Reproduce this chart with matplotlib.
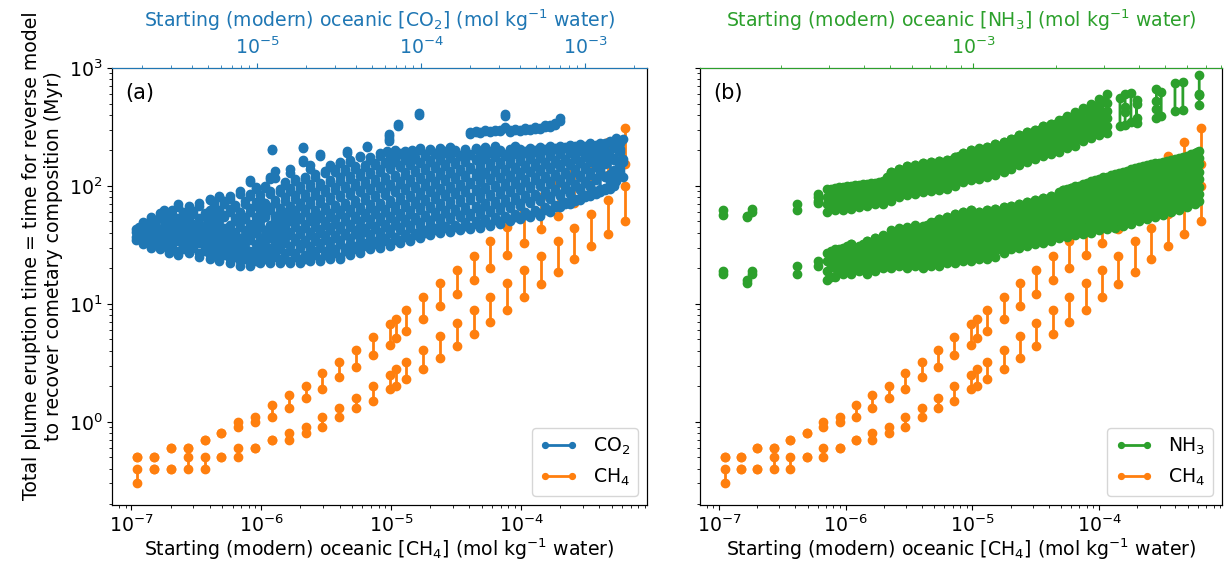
import numpy as np
import matplotlib.pyplot as plt

plt.rcParams['font.size'] = 13.6

# Starting CH4 concentration (mol/kg) for each model run
ch4_conc = [1.11e-7, 1.49e-7, 2.01e-7, 2.71e-7, 3.66e-7, 4.93e-7, 6.64e-7, 8.94e-7,
            1.205e-6, 1.62e-6, 2.19e-6, 2.95e-6, 3.97e-6, 5.35e-6, 7.21e-6, 9.72e-6,
            1.09e-5, 1.31e-5, 1.76e-5, 2.38e-5, 3.20e-5, 4.32e-5, 5.81e-5, 7.83e-5,
            1.055e-4, 1.42e-4, 1.92e-4, 2.58e-4, 3.48e-4, 4.69e-4, 6.32e-4]
# eruption times (Myr), slow branch
ch4_slow_lo = [0.5, 0.5, 0.6, 0.6, 0.7, 0.8, 0.9, 1.0, 1.1, 1.3, 1.6, 1.9, 2.4, 2.9, 3.7, 4.5,
               5.1, 5.9, 7.4, 9.5, 12.2, 15.8, 20.2, 26, 33, 43, 56, 72, 95, 125, 152]
ch4_slow_hi = [0.5, 0.5, 0.6, 0.6, 0.7, 0.8, 1.0, 1.1, 1.4, 1.7, 2.0, 2.6, 3.2, 4.1, 5.2, 6.7,
               7.5, 8.8, 11.4, 15.0, 19.5, 25.7, 33.8, 44.5, 60, 80, 105, 135, 179, 237, 307]
# eruption times (Myr), fast branch
ch4_fast_lo = [0.3, 0.4, 0.4, 0.4, 0.4, 0.5, 0.5, 0.6, 0.7, 0.7, 0.8, 0.9, 1.1, 1.3, 1.5, 1.9,
               2.0, 2.3, 2.8, 3.5, 4.4, 5.6, 7.0, 8.9, 11.4, 14.6, 18.5, 24, 31, 39, 50]
ch4_fast_hi = [0.4, 0.4, 0.4, 0.5, 0.5, 0.5, 0.6, 0.6, 0.7, 0.8, 0.9, 1.1, 1.3, 1.6, 2.0, 2.5,
               2.8, 3.2, 4.1, 5.3, 6.9, 8.8, 11.4, 15.1, 19.5, 25.7, 34, 44, 58, 76, 100]

# CO2 runs: starting conc -> list of (time lo, time hi) pairs in Myr
co2_runs = [
    (1.82e-6, [(35, 37), (41, 43)]),
    (1.90e-6, [(38, 40), (44, 45)]),
    (2.02e-6, [(32, 34), (36, 39), (46, 49)]),
    (2.12e-6, [(34, 35), (40, 43)]),
    (2.25e-6, [(30, 32), (37, 39), (44, 47), (52, 55)]),
    (2.40e-6, [(33, 36), (42, 44), (48, 50)]),
    (2.55e-6, [(29, 31), (35, 37), (40, 42), (55, 59)]),
    (2.70e-6, [(31, 33), (38, 41), (46, 50), (61, 63)]),
    (2.90e-6, [(27, 29), (33, 36), (43, 46), (52, 55)]),
    (3.05e-6, [(30, 32), (37, 40), (48, 51), (58, 62)]),
    (3.30e-6, [(26, 28), (34, 36), (41, 44), (50, 53), (66, 70)]),
    (3.55e-6, [(29, 31), (36, 39), (45, 49), (56, 60)]),
    (3.85e-6, [(27, 30), (32, 34), (40, 43), (51, 55), (62, 68)]),
    (4.10e-6, [(30, 32), (37, 41), (46, 48), (58, 61)]),
    (4.45e-6, [(25, 27), (33, 35), (39, 42), (48, 53), (67, 72)]),
    (4.80e-6, [(28, 30), (35, 38), (44, 46), (55, 59)]),
    (5.15e-6, [(24, 26), (31, 33), (38, 41), (46, 50), (60, 63), (76, 78)]),
    (5.50e-6, [(27, 29), (34, 37), (42, 45), (52, 56), (68, 71)]),
    (5.90e-6, [(23, 25), (29, 31), (36, 39), (47, 51), (58, 62), (80, 82)]),
    (6.30e-6, [(26, 28), (33, 35), (40, 44), (54, 57), (70, 74)]),
    (6.80e-6, [(22, 24), (28, 30), (35, 37), (43, 47), (60, 64), (78, 82)]),
    (7.30e-6, [(25, 27), (31, 34), (39, 41), (50, 53), (66, 69)]),
    (7.90e-6, [(21, 23), (27, 29), (33, 36), (45, 49), (56, 60), (85, 90)]),
    (8.50e-6, [(24, 26), (30, 33), (38, 42), (52, 55), (70, 74)]),
    (9.10e-6, [(21, 22), (26, 28), (35, 37), (44, 48), (60, 65), (82, 86), (108, 112)]),
    (9.80e-6, [(23, 25), (29, 32), (40, 43), (50, 54), (68, 73), (95, 98)]),
    (1.04e-5, [(22, 23), (27, 30), (34, 36), (46, 50), (58, 62), (78, 84)]),
    (1.12e-5, [(24, 26), (31, 34), (38, 42), (54, 57), (66, 72), (96, 100)]),
    (1.20e-5, [(22, 24), (28, 30), (36, 39), (44, 47), (62, 66), (85, 90), (115, 120)]),
    (1.24e-5, [(203, 207)]),
    (1.29e-5, [(25, 27), (32, 35), (41, 45), (52, 56), (72, 76), (117, 133)]),
    (1.38e-5, [(22, 24), (29, 31), (37, 40), (48, 51), (60, 65), (88, 95)]),
    (1.48e-5, [(24, 27), (33, 36), (43, 47), (56, 60), (75, 80), (102, 108)]),
    (1.59e-5, [(22, 23), (28, 31), (38, 41), (50, 54), (64, 68), (90, 96), (128, 140)]),
    (1.70e-5, [(25, 27), (34, 36), (45, 49), (58, 62), (78, 84), (110, 114)]),
    (1.83e-5, [(22, 24), (30, 32), (39, 42), (52, 55), (68, 72), (95, 100)]),
    (1.91e-5, [(160, 166), (208, 212)]),
    (1.97e-5, [(24, 26), (33, 35), (44, 48), (60, 64), (80, 86), (114, 118)]),
    (2.11e-5, [(23, 25), (29, 31), (38, 41), (50, 54), (70, 74), (98, 104), (140, 150)]),
    (2.27e-5, [(26, 28), (34, 37), (45, 49), (58, 63), (84, 88), (120, 126)]),
    (2.43e-5, [(23, 24), (30, 33), (40, 43), (53, 57), (72, 77), (100, 106), (180, 187)]),
    (2.60e-5, [(26, 28), (35, 38), (47, 50), (62, 66), (88, 94), (128, 135)]),
    (2.79e-5, [(24, 26), (31, 34), (42, 45), (55, 59), (76, 80), (108, 112), (145, 150)]),
    (3.00e-5, [(27, 29), (36, 38), (48, 52), (65, 69), (92, 97), (130, 138)]),
    (3.21e-5, [(24, 25), (32, 35), (43, 46), (58, 62), (80, 84), (110, 118), (155, 160)]),
    (3.45e-5, [(28, 30), (38, 40), (50, 54), (68, 72), (96, 100), (135, 140)]),
    (3.55e-5, [(192, 197)]),
    (3.70e-5, [(26, 28), (33, 36), (45, 48), (60, 64), (84, 88), (115, 122), (160, 166)]),
    (3.95e-5, [(29, 31), (39, 42), (52, 56), (72, 76), (100, 106), (140, 148)]),
    (4.26e-5, [(27, 29), (35, 38), (46, 50), (63, 66), (88, 92), (122, 128), (175, 179)]),
    (4.55e-5, [(31, 33), (41, 44), (55, 59), (76, 80), (104, 110), (145, 150)]),
    (4.70e-5, [(212, 218)]),
    (4.90e-5, [(29, 31), (37, 39), (48, 52), (65, 70), (92, 96), (126, 132), (165, 175)]),
    (5.25e-5, [(32, 34), (43, 46), (58, 62), (80, 84), (108, 114), (150, 156)]),
    (5.64e-5, [(30, 32), (38, 41), (50, 54), (68, 72), (96, 100), (132, 138), (180, 190)]),
    (6.05e-5, [(34, 36), (45, 48), (60, 64), (84, 88), (112, 118), (155, 160)]),
    (6.20e-5, [(194, 199)]),
    (6.37e-5, [(240, 250), (265, 275)]),
    (6.49e-5, [(31, 33), (40, 43), (53, 56), (72, 76), (100, 104), (138, 145), (172, 178)]),
    (6.95e-5, [(35, 37), (47, 50), (63, 67), (88, 92), (118, 124), (160, 168), (196, 200)]),
    (7.26e-5, [(320, 332)]),
    (7.47e-5, [(33, 35), (42, 45), (56, 59), (76, 80), (104, 110), (145, 150), (185, 190)]),
    (8.00e-5, [(37, 39), (49, 52), (66, 70), (92, 96), (124, 130), (165, 170), (195, 198)]),
    (8.59e-5, [(34, 36), (44, 47), (58, 62), (80, 84), (108, 114), (150, 156), (188, 192)]),
    (8.80e-5, [(196, 200)]),
    (9.25e-5, [(38, 40), (51, 54), (70, 74), (96, 100), (130, 136), (170, 176)]),
    (9.75e-5, [(400, 413)]),
    (9.89e-5, [(36, 38), (46, 49), (62, 66), (84, 88), (114, 120), (155, 160), (200, 210)]),
    (1.06e-4, [(40, 42), (54, 57), (74, 78), (100, 105), (136, 142), (178, 186)]),
    (1.14e-4, [(38, 40), (48, 51), (65, 68), (88, 92), (118, 124), (160, 166), (200, 205)]),
    (1.22e-4, [(42, 44), (56, 60), (78, 82), (104, 110), (142, 148), (185, 190)]),
    (1.31e-4, [(40, 42), (50, 53), (68, 72), (92, 96), (124, 130), (165, 172), (205, 210)]),
    (1.41e-4, [(44, 46), (59, 62), (82, 86), (110, 115), (148, 154), (190, 196)]),
    (1.51e-4, [(41, 43), (52, 55), (70, 74), (96, 100), (128, 134), (172, 178), (210, 214)]),
    (1.62e-4, [(45, 47), (61, 64), (85, 89), (114, 120), (154, 160), (195, 200)]),
    (1.73e-4, [(42, 44), (54, 57), (73, 77), (100, 104), (134, 140), (178, 184)]),
    (1.86e-4, [(46, 49), (63, 66), (88, 92), (118, 124), (160, 166), (198, 204)]),
    (2.00e-4, [(43, 45), (56, 59), (76, 80), (104, 108), (138, 145), (182, 188), (278, 286)]),
    (2.15e-4, [(48, 50), (65, 68), (91, 95), (122, 128), (165, 170), (205, 210), (284, 290)]),
    (2.30e-4, [(44, 46), (58, 61), (79, 83), (108, 112), (142, 150), (186, 192), (282, 288)]),
    (2.47e-4, [(49, 52), (67, 71), (94, 98), (126, 132), (170, 176), (208, 214), (290, 296)]),
    (2.64e-4, [(46, 48), (60, 63), (82, 86), (112, 116), (148, 155), (190, 196), (288, 294)]),
    (2.84e-4, [(51, 54), (70, 74), (97, 102), (130, 136), (175, 180), (210, 216), (294, 300)]),
    (3.04e-4, [(48, 50), (62, 66), (85, 90), (116, 120), (152, 160), (194, 200), (292, 298)]),
    (3.25e-4, [(53, 56), (73, 77), (100, 106), (134, 140), (180, 185), (310, 318), (395, 405)]),
    (3.50e-4, [(50, 52), (65, 68), (88, 93), (120, 125), (158, 165), (198, 204), (288, 296)]),
    (3.75e-4, [(55, 58), (76, 80), (104, 110), (138, 145), (185, 190), (212, 218), (296, 304)]),
    (4.03e-4, [(52, 54), (68, 72), (92, 97), (125, 130), (162, 170), (200, 206), (294, 300)]),
    (4.32e-4, [(57, 60), (79, 83), (108, 114), (143, 150), (190, 196), (300, 310)]),
    (4.63e-4, [(54, 57), (71, 75), (96, 100), (130, 135), (168, 175), (205, 210), (298, 306)]),
    (4.97e-4, [(60, 63), (82, 86), (112, 118), (148, 155), (195, 200), (306, 316)]),
    (5.33e-4, [(56, 59), (74, 78), (100, 105), (135, 140), (174, 180), (210, 215), (304, 312)]),
    (5.72e-4, [(63, 66), (86, 90), (116, 122), (152, 160), (200, 206), (314, 326)]),
    (6.14e-4, [(60, 63), (78, 82), (104, 110), (140, 146), (180, 186), (212, 218), (318, 330)]),
    (6.58e-4, [(66, 69), (90, 94), (121, 127), (158, 165), (204, 210), (330, 345)]),
    (7.06e-4, [(66, 69), (82, 86), (108, 114), (145, 152), (185, 192), (215, 220), (355, 380)]),
    (7.57e-4, [(70, 73), (95, 99), (126, 132), (164, 170), (208, 214)]),
    (8.14e-4, [(70, 73), (86, 90), (113, 118), (150, 156), (190, 196), (218, 224)]),
    (8.72e-4, [(74, 77), (100, 104), (132, 138), (170, 176), (210, 216)]),
    (9.37e-4, [(76, 79), (92, 96), (118, 124), (155, 162), (196, 202), (220, 226)]),
    (1.00e-3, [(80, 83), (105, 110), (138, 145), (176, 182), (214, 220)]),
    (1.08e-3, [(82, 85), (98, 102), (124, 130), (160, 168), (200, 206), (225, 230)]),
    (1.16e-3, [(86, 90), (112, 116), (145, 152), (182, 190), (218, 224)]),
    (1.24e-3, [(88, 92), (94, 172), (130, 136), (200, 210), (225, 232)]),
    (1.33e-3, [(92, 96), (118, 122), (152, 160), (190, 198), (226, 232)]),
    (1.43e-3, [(95, 99), (108, 114), (126, 240), (170, 178)]),
    (1.50e-3, [(100, 104), (130, 136), (165, 172), (210, 220)]),
    (1.55e-3, [(110, 116), (126, 255)]),
    (1.64e-3, [(130, 230), (140, 150), (195, 205)]),
    (1.70e-3, [(120, 250), (160, 168)]),
]

# NH3 runs: starting conc -> list of (time lo, time hi) pairs in Myr
nh3_runs = [
    (1.23e-4, [(57, 62), (18, 19)]),
    (1.51e-4, [(54, 56), (15, 16)]),
    (1.57e-4, [(60, 64), (18, 19)]),
    (2.29e-4, [(62, 70), (18, 21)]),
    (2.73e-4, [(72, 74), (80, 85), (21, 23)]),
    (2.94e-4, [(60, 70), (81, 95), (16, 19), (23, 27)]),
    (3.15e-4, [(62, 72), (83, 96), (17, 20), (24, 29)]),
    (3.37e-4, [(63, 73), (84, 98), (18, 21), (25, 30)]),
    (3.60e-4, [(64, 75), (86, 100), (18, 21), (25, 29), (32, 32)]),
    (3.85e-4, [(66, 77), (88, 102), (19, 22), (26, 31)]),
    (4.11e-4, [(68, 79), (90, 104), (18, 22), (26, 30), (34, 34)]),
    (4.40e-4, [(70, 81), (92, 106), (19, 23), (27, 32), (36, 36)]),
    (4.70e-4, [(70, 82), (94, 110), (20, 23), (27, 32), (37, 38)]),
    (5.03e-4, [(75, 88), (100, 116), (130, 130), (20, 24), (28, 33), (38, 42)]),
    (5.38e-4, [(80, 93), (106, 122), (140, 140), (21, 25), (29, 34), (40, 44)]),
    (5.75e-4, [(84, 98), (112, 128), (147, 147), (20, 24), (28, 33), (38, 45)]),
    (6.15e-4, [(86, 100), (114, 130), (150, 150), (21, 25), (29, 34), (40, 47)]),
    (6.58e-4, [(88, 102), (117, 134), (155, 155), (20, 24), (28, 33), (39, 46)]),
    (7.03e-4, [(90, 105), (120, 138), (160, 160), (21, 25), (29, 35), (41, 49)]),
    (7.52e-4, [(92, 107), (122, 140), (163, 163), (21, 25), (30, 35), (41, 48), (52, 52)]),
    (8.04e-4, [(95, 110), (125, 143), (165, 165), (22, 26), (30, 36), (42, 49), (55, 55)]),
    (8.60e-4, [(100, 116), (132, 152), (175, 175), (22, 26), (31, 37), (43, 50), (58, 58)]),
    (9.19e-4, [(108, 125), (143, 165), (190, 190), (23, 27), (32, 38), (44, 52), (60, 60)]),
    (9.83e-4, [(112, 130), (149, 172), (200, 200), (23, 27), (32, 38), (45, 53), (62, 62)]),
    (1.05e-3, [(115, 133), (153, 178), (205, 210), (24, 28), (33, 39), (46, 54), (60, 60)]),
    (1.12e-3, [(120, 139), (160, 185), (215, 215), (24, 29), (34, 40), (47, 55), (62, 62)]),
    (1.20e-3, [(125, 145), (167, 193), (225, 225), (25, 30), (35, 41), (48, 56), (64, 64)]),
    (1.29e-3, [(130, 151), (174, 202), (235, 235), (27, 32), (37, 43), (50, 58), (66, 66)]),
    (1.37e-3, [(140, 162), (186, 215), (250, 250), (29, 34), (39, 45), (52, 60), (68, 68)]),
    (1.47e-3, [(150, 174), (200, 232), (270, 270), (30, 35), (40, 47), (54, 62), (70, 70)]),
    (1.57e-3, [(160, 185), (213, 247), (285, 285), (31, 36), (42, 49), (56, 64), (73, 73)]),
    (1.68e-3, [(170, 197), (226, 262), (300, 300), (32, 37), (43, 50), (57, 66), (76, 76)]),
    (1.80e-3, [(180, 208), (240, 278), (320, 320), (33, 38), (44, 52), (59, 69), (79, 79)]),
    (1.92e-3, [(186, 216), (250, 290), (333, 333), (34, 40), (46, 54), (62, 72), (82, 82)]),
    (2.05e-3, [(195, 226), (262, 304), (350, 360), (36, 42), (48, 56), (64, 74), (84, 88)]),
    (2.20e-3, [(210, 244), (282, 327), (378, 390), (37, 43), (50, 58), (67, 78), (88, 95)]),
    (2.35e-3, [(220, 255), (295, 342), (395, 420), (38, 44), (51, 60), (69, 80), (90, 100)]),
    (2.51e-3, [(240, 278), (322, 373), (430, 455), (39, 46), (53, 62), (71, 83), (94, 104)]),
    (2.69e-3, [(255, 296), (342, 397), (460, 500), (40, 47), (55, 64), (74, 86), (98, 110)]),
    (2.87e-3, [(270, 313), (362, 420), (487, 550), (42, 49), (57, 67), (77, 90), (102, 115)]),
    (3.07e-3, [(280, 325), (376, 436), (505, 600), (43, 51), (59, 69), (80, 93), (106, 120)]),
    (3.28e-3, [(44, 52), (61, 72), (83, 97), (110, 126)]),
    (3.42e-3, [(320, 560)]),
    (3.51e-3, [(46, 54), (63, 74), (86, 100), (115, 132)]),
    (3.57e-3, [(330, 600), (420, 470)]),
    (3.75e-3, [(350, 610), (48, 56), (65, 77), (89, 104), (120, 138)]),
    (3.93e-3, [(345, 500), (380, 540)]),
    (4.01e-3, [(50, 59), (68, 80), (93, 109), (125, 145)]),
    (4.29e-3, [(52, 61), (71, 83), (96, 113), (130, 150)]),
    (4.59e-3, [(54, 63), (73, 86), (100, 117), (134, 155)]),
    (4.64e-3, [(375, 660), (450, 520)]),
    (4.83e-3, [(390, 620)]),
    (4.91e-3, [(57, 67), (77, 90), (104, 122), (140, 160)]),
    (5.25e-3, [(60, 70), (80, 94), (108, 127), (145, 166)]),
    (5.42e-3, [(430, 740)]),
    (5.61e-3, [(63, 74), (84, 98), (113, 132), (150, 172)]),
    (5.79e-3, [(440, 760)]),
    (6.00e-3, [(66, 77), (88, 103), (118, 138), (157, 180)]),
    (6.41e-3, [(70, 82), (93, 108), (124, 145), (165, 190)]),
    (6.64e-3, [(74, 86), (98, 114), (130, 152), (172, 198), (490, 880), (595, 600)]),
    # runs between the ones above
    (3.04e-4, [(65, 75), (87, 95), (17, 21), (25, 28)]),
    (3.26e-4, [(66, 77), (89, 97), (19, 22), (26, 29)]),
    (3.48e-4, [(68, 79), (91, 99), (19, 23), (27, 31)]),
    (3.72e-4, [(69, 81), (93, 101), (20, 23), (27, 30)]),
    (3.98e-4, [(71, 83), (95, 103), (20, 24), (28, 32)]),
    (4.25e-4, [(73, 85), (97, 105), (20, 24), (28, 33)]),
    (4.55e-4, [(74, 87), (100, 108), (21, 25), (29, 34)]),
    (4.86e-4, [(78, 91), (105, 120), (21, 25), (30, 36)]),
    (5.20e-4, [(83, 96), (110, 128), (22, 26), (31, 37), (41, 41)]),
    (5.56e-4, [(87, 102), (116, 135), (22, 27), (31, 37), (42, 42)]),
    (5.95e-4, [(90, 106), (121, 140), (22, 26), (31, 36), (42, 42)]),
    (6.36e-4, [(92, 109), (125, 145), (22, 27), (32, 37), (43, 43)]),
    (6.80e-4, [(94, 112), (128, 150), (22, 26), (31, 36), (43, 47)]),
    (7.27e-4, [(96, 114), (131, 153), (23, 27), (32, 38), (44, 49)]),
    (7.78e-4, [(99, 117), (134, 156), (23, 28), (33, 38), (45, 50)]),
    (8.32e-4, [(104, 122), (140, 165), (24, 28), (34, 40), (46, 52)]),
    (8.89e-4, [(110, 130), (150, 180), (24, 29), (35, 41), (47, 54)]),
    (9.50e-4, [(116, 136), (158, 188), (25, 30), (35, 42), (48, 56)]),
    (1.016e-3, [(119, 140), (163, 195), (25, 30), (36, 42), (50, 57)]),
    (1.085e-3, [(124, 146), (170, 202), (26, 31), (37, 43), (50, 57)]),
    (1.16e-3, [(129, 152), (176, 210), (27, 32), (38, 44), (52, 59)]),
    (1.245e-3, [(136, 160), (184, 220), (29, 34), (40, 46), (54, 61)]),
    (1.33e-3, [(145, 170), (195, 232), (31, 36), (42, 48), (56, 63)]),
    (1.42e-3, [(156, 183), (210, 250), (32, 37), (43, 50), (58, 66)]),
    (1.52e-3, [(166, 195), (224, 266), (33, 39), (45, 52), (60, 68)]),
    (1.625e-3, [(176, 207), (238, 282), (34, 40), (46, 54), (62, 71)]),
    (1.74e-3, [(186, 220), (253, 300), (35, 41), (48, 56), (64, 74)]),
    (1.86e-3, [(194, 230), (266, 315), (36, 43), (50, 58), (66, 77)]),
    (1.985e-3, [(204, 242), (280, 335), (38, 45), (52, 61), (70, 80)]),
    (2.125e-3, [(218, 260), (300, 360), (40, 46), (54, 63), (72, 85), (92, 92)]),
    (2.275e-3, [(232, 275), (318, 385), (41, 48), (55, 65), (74, 88), (96, 96)]),
    (2.43e-3, [(250, 296), (342, 415), (42, 49), (57, 67), (77, 90), (98, 100)]),
    (2.60e-3, [(268, 318), (365, 445), (43, 51), (59, 70), (80, 94), (102, 106)]),
    (2.78e-3, [(284, 338), (390, 480), (45, 53), (61, 72), (83, 97), (106, 112)]),
    (2.97e-3, [(296, 355), (410, 520), (46, 55), (63, 74), (86, 100), (110, 118)]),
    (3.17e-3, [(47, 56), (65, 77), (89, 104), (114, 123)]),
    (3.39e-3, [(49, 58), (67, 79), (92, 108), (118, 129)]),
    (3.63e-3, [(51, 60), (69, 82), (95, 112), (124, 135)]),
    (3.88e-3, [(53, 62), (72, 86), (99, 116), (129, 141)]),
    (4.15e-3, [(55, 65), (75, 89), (103, 120), (134, 147)]),
    (4.44e-3, [(57, 67), (78, 92), (107, 125), (140, 152)]),
    (4.75e-3, [(60, 70), (81, 96), (111, 129), (145, 157)]),
    (5.08e-3, [(63, 73), (85, 100), (115, 134), (150, 163)]),
    (5.43e-3, [(66, 77), (88, 104), (120, 140), (155, 169)]),
    (5.80e-3, [(69, 80), (92, 108), (125, 145), (162, 176)]),
    (6.20e-3, [(72, 84), (97, 113), (131, 152), (170, 185)]),
    (6.52e-3, [(75, 88), (101, 118), (137, 160), (180, 194)]),
]


def pair_lines(xs, lo, hi):
    # each run is a vertical segment between its two eruption times; NaN breaks the line
    px, py = [], []
    for x, a, b in zip(xs, lo, hi):
        px += [x, x, np.nan]
        py += [a, b, np.nan]
    return px, py


def run_lines(runs):
    xs, lo, hi = [], [], []
    for conc, pairs in runs:
        for a, b in pairs:
            xs.append(conc)
            lo.append(a)
            hi.append(b)
    return pair_lines(xs, lo, hi)


ch4_x, ch4_y = pair_lines(ch4_conc + ch4_conc, ch4_slow_lo + ch4_fast_lo, ch4_slow_hi + ch4_fast_hi)
co2_x, co2_y = run_lines(co2_runs)
nh3_x, nh3_y = run_lines(nh3_runs)

style = dict(marker='o', ms=6, lw=2)

fig = plt.figure(figsize=(12.25, 5.71))
ax1 = fig.add_axes([112 / 1225, 66 / 571, 535 / 1225, 437 / 571])
ax3 = fig.add_axes([700 / 1225, 66 / 571, 522 / 1225, 437 / 571], sharey=ax1)
ax3.tick_params(labelleft=False)

ch4_lines = []
for ax in (ax1, ax3):
    ax.set_xscale('log')
    ax.set_yscale('log')
    l, = ax.plot(ch4_x, ch4_y, color='tab:orange', **style)
    ch4_lines.append(l)
    ax.set_xlabel('Starting (modern) oceanic [CH$_4$] (mol kg$^{-1}$ water)', labelpad=0)
    ax.set_xlim(10**-7.15, 10**-3.03)

ax1.set_ylim(0.197, 1000)
ax1.set_ylabel('Total plume eruption time = time for reverse model\nto recover cometary composition (Myr)')
ax1.yaxis.label.set_y(0.57)

# CO2 on a twin top axis
ax2 = ax1.twiny()
ax2.set_xscale('log')
co2_line, = ax2.plot(co2_x, co2_y, color='tab:blue', **style)
ax2.set_xlim(10**-5.884, 10**-2.622)
ax2.set_xlabel('Starting (modern) oceanic [CO$_2$] (mol kg$^{-1}$ water)', color='tab:blue', labelpad=7)
ax2.tick_params(axis='x', which='both', colors='tab:blue')
ax2.spines['top'].set_color('tab:blue')
ax2.legend([co2_line, ch4_lines[0]], ['CO$_2$', 'CH$_4$'], loc='lower right',
           numpoints=2, markerscale=0.7)

# NH3 on a twin top axis
ax4 = ax3.twiny()
ax4.set_xscale('log')
nh3_line, = ax4.plot(nh3_x, nh3_y, color='tab:green', **style)
ax4.set_xlim(10**-3.993, 10**-2.095)
ax4.set_xlabel('Starting (modern) oceanic [NH$_3$] (mol kg$^{-1}$ water)', color='tab:green', labelpad=7)
ax4.tick_params(axis='x', which='both', colors='tab:green')
ax4.spines['top'].set_color('tab:green')
ax4.legend([nh3_line, ch4_lines[1]], ['NH$_3$', 'CH$_4$'], loc='lower right',
           numpoints=2, markerscale=0.7)

ax1.text(0.025, 0.965, '(a)', transform=ax1.transAxes, va='top', fontsize=15)
ax3.text(0.025, 0.965, '(b)', transform=ax3.transAxes, va='top', fontsize=15)

fig.savefig('out.png', dpi=100)
